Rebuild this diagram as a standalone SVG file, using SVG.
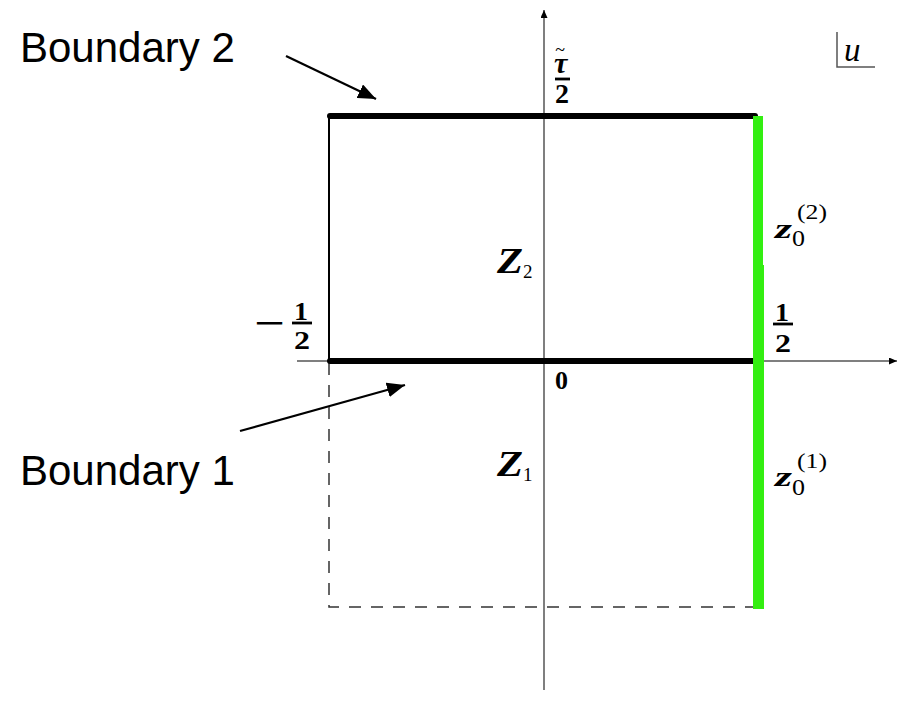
<svg xmlns="http://www.w3.org/2000/svg" width="903" height="721" viewBox="0 0 903 721">
<defs>
<style>
.axis{stroke:#555;stroke-width:1.5;fill:none}
.thick{stroke:#000;stroke-width:6;stroke-linecap:round;fill:none}
.thin{stroke:#000;stroke-width:2;fill:none}
.dash{stroke:#333;stroke-width:1.5;fill:none;stroke-dasharray:12 10}
.green{stroke:#33ee11;fill:none}
.ptr{stroke:#000;stroke-width:2.2;fill:none}
.lbl{font-family:"Liberation Sans",Arial,sans-serif;font-size:42px;fill:#000}
.mi{font-family:"Liberation Serif","DejaVu Serif",serif;font-style:italic;font-weight:bold;fill:#000}
.mn{font-family:"Liberation Serif","DejaVu Serif",serif;font-weight:bold;fill:#000}
.mr{font-family:"Liberation Serif","DejaVu Serif",serif;fill:#000}
.bar{stroke:#000;stroke-width:2.8}
</style>
<marker id="ah" viewBox="0 0 10 10" refX="10" refY="5" markerWidth="8" markerHeight="7" markerUnits="userSpaceOnUse" orient="auto" preserveAspectRatio="none">
<path d="M0,0 L10,5 L0,10 z" fill="#000"/>
</marker>
<marker id="ptrhead" viewBox="0 0 10 10" refX="10" refY="5" markerWidth="18" markerHeight="15" markerUnits="userSpaceOnUse" orient="auto" preserveAspectRatio="none">
<path d="M0,0 L10,5 L0,10 z" fill="#000"/>
</marker>
</defs>
<rect width="903" height="721" fill="#fff"/>
<g id="connectors">
<line class="axis" x1="544" y1="690" x2="544" y2="10" marker-end="url(#ah)"/>
<line class="axis" x1="297" y1="361" x2="897" y2="361" marker-end="url(#ah)"/>
<line class="ptr" x1="286" y1="56" x2="376" y2="99" marker-end="url(#ptrhead)"/>
<line class="ptr" x1="240" y1="431" x2="405" y2="385" marker-end="url(#ptrhead)"/>
</g>
<g id="region">
<line class="thin" x1="329" y1="116" x2="329" y2="361"/>
<path class="dash" d="M329,363 V607 H753"/>
<line class="thick" x1="330" y1="116" x2="755" y2="116"/>
<line class="thick" x1="330" y1="361" x2="755" y2="361"/>
<line class="green" x1="758" y1="116" x2="758" y2="266" stroke-width="10"/>
<line class="green" x1="758.5" y1="265" x2="758.5" y2="609" stroke-width="11"/>
</g>
<g id="u-box">
<path class="axis" d="M837,32 V67 H875"/>
<text class="mr" x="844" y="61" font-size="33" font-style="italic">u</text>
</g>
<g id="boundary2"><text class="lbl" x="20" y="62">Boundary 2</text></g>
<g id="boundary1"><text class="lbl" x="20" y="485">Boundary 1</text></g>
<g id="tau-half">
<text class="mi" x="554" y="73" font-size="30">τ<tspan dx="-12" dy="-17" font-size="18" font-weight="normal" font-style="normal">~</tspan></text>
<line class="bar" x1="555" y1="79" x2="570" y2="79"/>
<text class="mn" x="555" y="103" font-size="27" textLength="14" lengthAdjust="spacingAndGlyphs">2</text>
</g>
<g id="minus-half">
<text class="mn" x="254" y="335" font-size="36" textLength="31" lengthAdjust="spacingAndGlyphs">−</text>
<text class="mn" x="294" y="320" font-size="26" textLength="14" lengthAdjust="spacingAndGlyphs">1</text>
<line class="bar" x1="292" y1="323" x2="312" y2="323"/>
<text class="mn" x="294" y="349" font-size="26" textLength="16" lengthAdjust="spacingAndGlyphs">2</text>
</g>
<g id="plus-half">
<text class="mn" x="775" y="321" font-size="26" textLength="14" lengthAdjust="spacingAndGlyphs">1</text>
<line class="bar" x1="773" y1="324" x2="793" y2="324"/>
<text class="mn" x="775" y="352" font-size="26" textLength="16" lengthAdjust="spacingAndGlyphs">2</text>
</g>
<g id="zero"><text class="mn" x="555" y="389" font-size="25" textLength="13" lengthAdjust="spacingAndGlyphs">0</text></g>
<g id="Z2">
<text class="mi" x="497" y="273" font-size="35" textLength="26" lengthAdjust="spacingAndGlyphs">Z</text>
<text class="mr" x="523" y="278" font-size="19">2</text>
</g>
<g id="Z1">
<text class="mi" x="497" y="476" font-size="35" textLength="26" lengthAdjust="spacingAndGlyphs">Z</text>
<text class="mr" x="523" y="481" font-size="19">1</text>
</g>
<g id="z02">
<text class="mi" x="775" y="238" font-size="28" textLength="17" lengthAdjust="spacingAndGlyphs">z</text>
<text class="mr" x="792" y="246" font-size="24" textLength="13" lengthAdjust="spacingAndGlyphs">0</text>
<text class="mr" x="797" y="219" font-size="22" textLength="30" lengthAdjust="spacingAndGlyphs">(2)</text>
</g>
<g id="z01">
<text class="mi" x="775" y="486" font-size="28" textLength="17" lengthAdjust="spacingAndGlyphs">z</text>
<text class="mr" x="792" y="495" font-size="24" textLength="13" lengthAdjust="spacingAndGlyphs">0</text>
<text class="mr" x="797" y="468" font-size="22" textLength="30" lengthAdjust="spacingAndGlyphs">(1)</text>
</g>
</svg>
